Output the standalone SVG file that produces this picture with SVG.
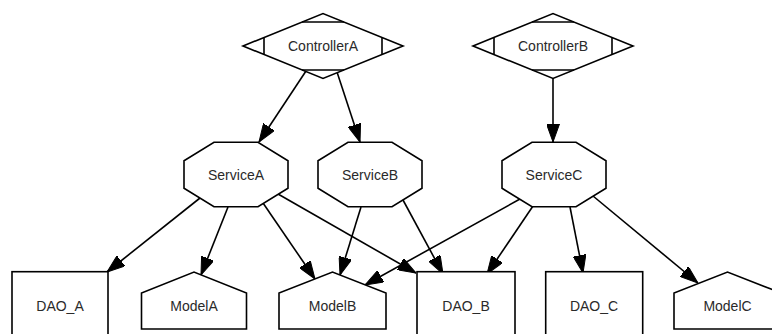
<svg xmlns="http://www.w3.org/2000/svg" width="772" height="334" viewBox="0 0 772 334">
<style>
.s{fill:#fff;stroke:#000;stroke-width:1.6;stroke-linejoin:miter}
.d{fill:none;stroke:#000;stroke-width:1.6}
.t{font-family:"Liberation Sans",Arial,sans-serif;font-size:14px;fill:#2a2a2a;text-anchor:middle}
.e{fill:none;stroke:#000;stroke-width:1.6;marker-end:url(#ah)}
</style>
<defs>
<marker id="ah" viewBox="0 0 18 13" refX="18" refY="6.5" markerWidth="18" markerHeight="13" markerUnits="userSpaceOnUse" orient="auto">
<path d="M0,0 L18,6.5 L0,13 z" fill="#000" stroke="#000" stroke-width="1"/>
</marker>
</defs>
<rect width="772" height="334" fill="#fff"/>
<g id="connectors">
<path class="e" d="M306,71 L259,142"/>
<path class="e" d="M337,72 L360,142"/>
<path class="e" d="M553,78.5 L553,142"/>
<path class="e" d="M200,198 L107,272"/>
<path class="e" d="M228,207 L201,275"/>
<path class="e" d="M263,203 L315,279"/>
<path class="e" d="M278,194 L416,273"/>
<path class="e" d="M361,207 L340,275"/>
<path class="e" d="M403,200 L443,274"/>
<path class="e" d="M520,199 L365,285"/>
<path class="e" d="M533,206 L487,274"/>
<path class="e" d="M570,207 L583,273"/>
<path class="e" d="M593,196 L698,283"/>
</g>
<g id="ControllerA">
<polygon class="s" points="243,46 323,13.5 403,46 323,78.5"/>
<path class="d" d="M264,37.5 V54.5 M382,37.5 V54.5 M302,22 H344 M302,70 H344"/>
<text class="t" x="323" y="51">ControllerA</text>
</g>
<g id="ControllerB">
<polygon class="s" points="473,46 553,13.5 633,46 553,78.5"/>
<path class="d" d="M494,37.5 V54.5 M612,37.5 V54.5 M532,22 H574 M532,70 H574"/>
<text class="t" x="553" y="51">ControllerB</text>
</g>
<g id="ServiceA">
<polygon class="s" points="214,142.3 258,142.3 288,160.7 288,188.3 258,206.7 214,206.7 184,188.3 184,160.7"/>
<text class="t" x="236" y="180">ServiceA</text>
</g>
<g id="ServiceB">
<polygon class="s" points="348,142.3 392,142.3 422,160.7 422,188.3 392,206.7 348,206.7 318,188.3 318,160.7"/>
<text class="t" x="370" y="180">ServiceB</text>
</g>
<g id="ServiceC">
<polygon class="s" points="532,142.3 576,142.3 606,160.7 606,188.3 576,206.7 532,206.7 502,188.3 502,160.7"/>
<text class="t" x="554" y="180">ServiceC</text>
</g>
<g id="DAO_A">
<rect class="s" x="12" y="271.7" width="96" height="80"/>
<text class="t" x="60" y="310.5">DAO_A</text>
</g>
<g id="ModelA">
<polygon class="s" points="141.5,329 141.5,293 194,272 246.5,293 246.5,329"/>
<text class="t" x="194" y="310.5">ModelA</text>
</g>
<g id="ModelB">
<polygon class="s" points="279,329 279,293 332.5,272 386,293 386,329"/>
<text class="t" x="332.5" y="310.5">ModelB</text>
</g>
<g id="DAO_B">
<rect class="s" x="417" y="271.7" width="98" height="80"/>
<text class="t" x="466" y="310.5">DAO_B</text>
</g>
<g id="DAO_C">
<rect class="s" x="545.7" y="271.7" width="97" height="80"/>
<text class="t" x="594" y="310.5">DAO_C</text>
</g>
<g id="ModelC">
<polygon class="s" points="674,329 674,293 727.5,272 781,293 781,329"/>
<text class="t" x="727.5" y="310.5">ModelC</text>
</g>
</svg>
